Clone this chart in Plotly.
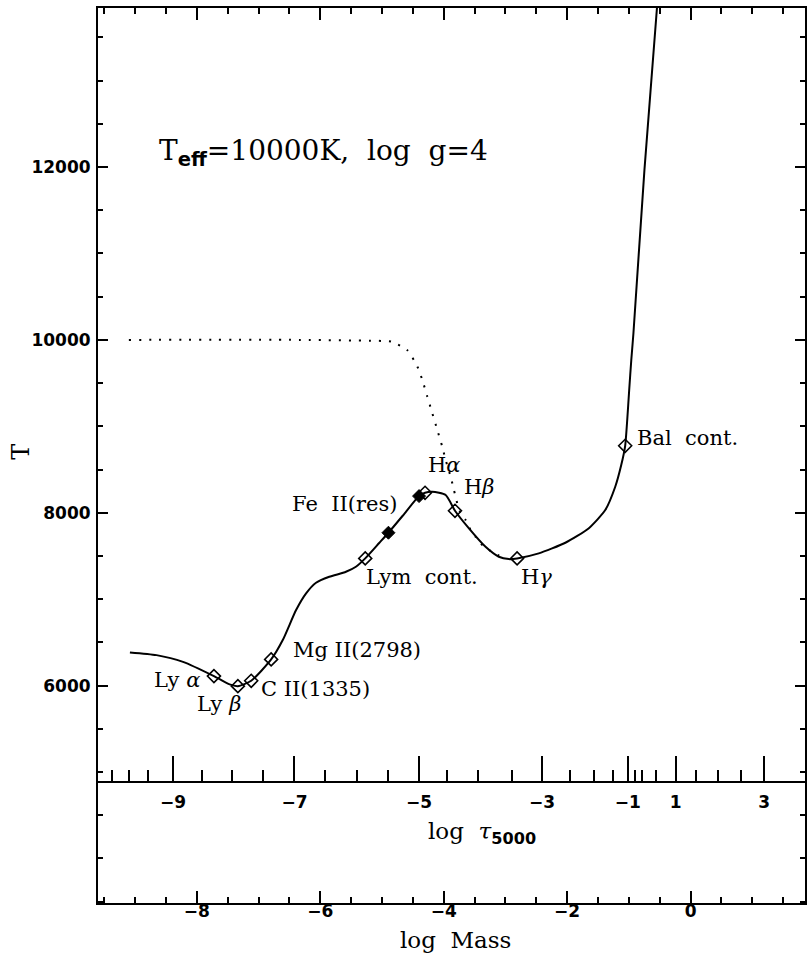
import plotly.graph_objects as go

# ---------------- data ----------------
# Solid curve: temperature structure vs log column mass
logm_model = [-9.083, -8.653, -8.223, -7.722, -7.468, -7.334, -7.118, -6.795, -6.607, -6.391,
              -6.229, -6.068, -5.853, -5.583, -5.422, -5.271, -5.045, -4.895, -4.641, -4.399,
              -4.302, -4.184, -3.968, -3.817, -3.591, -3.322, -3.107, -2.945, -2.811, -2.460,
              -2.029, -1.653, -1.383, -1.221, -1.124, -1.060, -1.027, -0.995, -0.961, -0.926,
              -0.748, -0.545, -0.522]
T_model = [6384, 6353, 6275, 6110, 6014, 5994, 6056, 6303, 6527, 6874,
           7067, 7190, 7259, 7317, 7375, 7472, 7650, 7769, 7985, 8193,
           8231, 8243, 8205, 8023, 7819, 7606, 7491, 7464, 7472, 7530,
           7653, 7819, 8031, 8301, 8552, 8775, 9073, 9420, 9768, 10080,
           11967, 13842, 14108]

# Dotted curve: radiative-equilibrium comparison
logm_dot = [-9.10, -6.338, -4.964, -4.842, -4.593, -4.425, -4.346, -4.265, -4.184, -4.103,
            -4.023, -3.968, -3.887, -3.834, -3.780, -3.725, -3.645, -3.564, -3.483, -3.402,
            -3.322, -3.187, -3.026]
T_dot = [10000, 10000, 9987, 9979, 9883, 9690, 9536, 9343, 9150, 8957,
         8764, 8610, 8417, 8263, 8109, 7993, 7916, 7800, 7722, 7646,
         7597, 7534, 7481]

# Formation depths of lines / continua (open diamonds)
open_names = ["Ly α", "Ly β", "C II(1335)", "Mg II(2798)", "Lym cont.", "Hα", "Hβ", "Hγ", "Bal cont."]
open_logm = [-7.722, -7.334, -7.118, -6.795, -5.271, -4.302, -3.817, -2.811, -1.060]
open_T = [6110, 5994, 6056, 6303, 7472, 8231, 8023, 7472, 8775]

# filled diamonds
filled_names = ["", "Fe II(res)"]
filled_logm = [-4.895, -4.399]
filled_T = [7769, 8193]

# log tau_5000 scale expressed at log-mass positions
tau_major_labels = [-9, -7, -5, -3, -1, 1, 3]
tau_major_logm = [-8.385, -6.418, -4.399, -2.407, -1.018, -0.242, 1.191]
tau_minor_logm = [-9.380, -9.095, -8.788, -7.910, -7.425, -6.931, -5.918, -5.406, -4.895,
                  -3.942, -3.441, -2.901, -1.960, -1.572, -1.265, -0.898, -0.780, -0.565,
                  0.081, 0.447, 0.814]

T_tick_labels = [6000, 8000, 10000, 12000]

# ---------------- styling ----------------
X_RANGE = [-9.60, 1.853]
Y_RANGE = [3485, 13840]
TAU_AXIS_T = 4887
SERIF = "DejaVu Serif"
SANS = "DejaVu Sans"
BLACK = "black"

label_html = {
    "Ly α": "Ly <i>α</i>",
    "Ly β": "Ly <i>β</i>",
    "C II(1335)": "C II(1335)",
    "Mg II(2798)": "Mg II(2798)",
    "Lym cont.": "Lym\u00a0 cont.",
    "Hα": "H<i>α</i>",
    "Hβ": "H<i>β</i>",
    "Hγ": "H<i>γ</i>",
    "Bal cont.": "Bal\u00a0 cont.",
    "Fe II(res)": "Fe\u00a0 II(res)",
}
# (xanchor, xshift px, yshift px)
label_offsets = {
    "Ly α": ("right", -12, -4),
    "Ly β": ("center", -19, -18),
    "C II(1335)": ("left", 8, -8),
    "Mg II(2798)": ("left", 20, 9),
    "Lym cont.": ("left", -1, -19),
    "Hα": ("left", 1, 28),
    "Hβ": ("left", 7, 24),
    "Hγ": ("left", 2, -19),
    "Bal cont.": ("left", 10, 8),
    "Fe II(res)": ("right", -20, -8),
}

fig = go.Figure()

fig.add_trace(go.Scatter(x=logm_dot, y=T_dot, mode="lines",
                         line=dict(color=BLACK, width=2, dash="2px,8px", shape="spline", smoothing=0.6),
                         hoverinfo="skip", showlegend=False))
fig.add_trace(go.Scatter(x=logm_model, y=T_model, mode="lines",
                         line=dict(color=BLACK, width=2, shape="spline", smoothing=0.6),
                         hoverinfo="skip", showlegend=False))
fig.add_trace(go.Scatter(x=open_logm, y=open_T, mode="markers",
                         marker=dict(symbol="diamond-open", size=10, color=BLACK, line=dict(width=1.6, color=BLACK)),
                         hoverinfo="skip", showlegend=False))
fig.add_trace(go.Scatter(x=filled_logm, y=filled_T, mode="markers",
                         marker=dict(symbol="diamond", size=10, color=BLACK, line=dict(width=1, color=BLACK)),
                         hoverinfo="skip", showlegend=False))
# trace to attach the tau axis
fig.add_trace(go.Scatter(x=X_RANGE, y=[None, None], xaxis="x2", mode="lines",
                         hoverinfo="skip", showlegend=False))

annotations = []
for name, xm, yt in list(zip(open_names, open_logm, open_T)) + list(zip(filled_names, filled_logm, filled_T)):
    if not name:
        continue
    xa, xs, ys = label_offsets[name]
    annotations.append(dict(x=xm, y=yt, xref="x", yref="y", text=label_html[name], showarrow=False,
                            xanchor=xa, yanchor="middle", xshift=xs, yshift=ys,
                            font=dict(family=SERIF, size=21, color=BLACK)))

annotations.append(dict(x=0.084, y=0.838, xref="paper", yref="paper",
                        text="T<sub><span style='font-family:DejaVu Sans;font-weight:bold'>eff</span></sub>=10000K,\u00a0 log\u00a0 g=4",
                        showarrow=False, xanchor="left", yanchor="middle",
                        font=dict(family=SERIF, size=28, color=BLACK)))
annotations.append(dict(x=-0.109, y=0.504, xref="paper", yref="paper", text="T", textangle=-90,
                        showarrow=False, xanchor="center", yanchor="middle",
                        font=dict(family=SERIF, size=24, color=BLACK)))
annotations.append(dict(x=0.543, y=0.078, xref="paper", yref="paper",
                        text="log\u00a0 <i>τ</i><sub><span style='font-family:DejaVu Sans;font-weight:bold'>5000</span></sub>",
                        showarrow=False, xanchor="center", yanchor="middle",
                        font=dict(family=SERIF, size=23, color=BLACK)))
annotations.append(dict(x=0.5057, y=-0.0413, xref="paper", yref="paper", text="log\u00a0 Mass",
                        showarrow=False, xanchor="center", yanchor="middle",
                        font=dict(family=SERIF, size=23, color=BLACK)))

tau_pos = (TAU_AXIS_T - Y_RANGE[0]) / (Y_RANGE[1] - Y_RANGE[0])
tickfont = dict(family=SANS, size=17, color=BLACK, weight="bold")

fig.update_layout(
    width=810, height=954,
    margin=dict(l=98, r=3, t=8, b=51),
    paper_bgcolor="white", plot_bgcolor="white",
    showlegend=False,
    annotations=annotations,
    xaxis=dict(range=X_RANGE, showgrid=False, zeroline=False, showline=True, linecolor=BLACK, linewidth=2,
               mirror="ticks", ticks="inside", ticklen=12, tickwidth=1.5, tickcolor=BLACK,
               tick0=0, dtick=2, tickfont=tickfont, ticklabelstandoff=-8,
               minor=dict(ticks="inside", dtick=0.5, tick0=0, ticklen=6, tickwidth=1.5, tickcolor=BLACK)),
    xaxis2=dict(range=X_RANGE, overlaying="x", anchor="free", position=tau_pos, side="bottom",
                showgrid=False, zeroline=False, showline=True, linecolor=BLACK, linewidth=1.5,
                tickmode="array", tickvals=tau_major_logm,
                ticktext=[("\u2212" + str(-v)) if v < 0 else str(v) for v in tau_major_labels],
                ticks="inside", ticklen=25, tickwidth=1.5, tickcolor=BLACK, tickfont=tickfont,
                ticklabelstandoff=5,
                minor=dict(ticks="inside", tickmode="array", tickvals=tau_minor_logm, ticklen=11,
                           tickwidth=1.5, tickcolor=BLACK)),
    yaxis=dict(range=Y_RANGE, showgrid=False, zeroline=False, showline=True, linecolor=BLACK, linewidth=2,
               mirror="ticks", ticks="inside", ticklen=10, tickwidth=1.5, tickcolor=BLACK,
               tickmode="array", tickvals=T_tick_labels, ticktext=[str(v) for v in T_tick_labels],
               tickfont=tickfont, ticklabelstandoff=2,
               minor=dict(ticks="inside", dtick=500, tick0=0, ticklen=5, tickwidth=1.5, tickcolor=BLACK)),
)

fig.write_html("out.html")
